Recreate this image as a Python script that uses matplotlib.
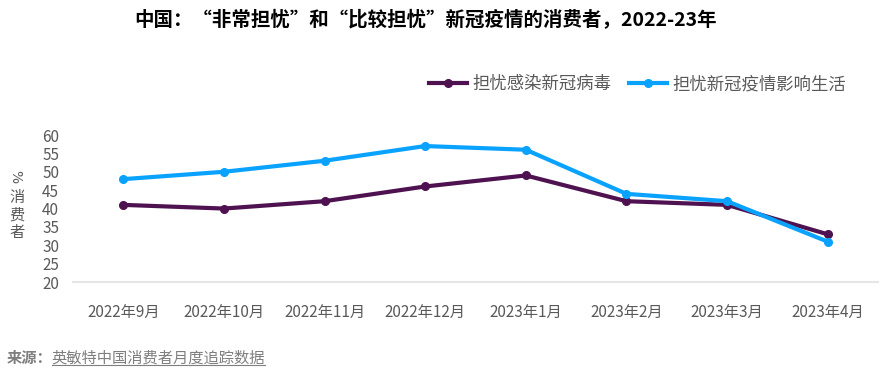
import matplotlib.pyplot as plt
from matplotlib.lines import Line2D

plt.rcParams['font.family'] = ['Noto Sans CJK SC', 'DejaVu Sans']

months = ['2022年9月', '2022年10月', '2022年11月', '2022年12月',
          '2023年1月', '2023年2月', '2023年3月', '2023年4月']
worry_infection = [41, 40, 42, 46, 49, 42, 41, 33]
worry_life = [48, 50, 53, 57, 56, 44, 42, 31]
y_ticks = [20, 25, 30, 35, 40, 45, 50, 55, 60]

purple = '#4F1250'
blue = '#0AA2FF'
gray = '#595959'

fig = plt.figure(figsize=(8.9, 3.88), dpi=100)
ax = fig.add_axes([0.082, 0.273, 0.9045, 0.379])

x = range(len(months))
ax.plot(x, worry_infection, color=purple, lw=3, marker='o', ms=5.5,
        label='担忧感染新冠病毒', solid_capstyle='round')
ax.plot(x, worry_life, color=blue, lw=3, marker='o', ms=5.5,
        label='担忧新冠疫情影响生活', solid_capstyle='round')

ax.set_xlim(-0.5, len(months) - 0.5)
ax.set_ylim(20, 60)
ax.set_yticks(y_ticks)
ax.set_xticks(list(x))
ax.set_xticklabels(months)
ax.tick_params(axis='both', length=0, labelsize=11, colors=gray)
ax.tick_params(axis='x', pad=16)
ax.tick_params(axis='y', pad=10)
for s in ['top', 'right', 'left']:
    ax.spines[s].set_visible(False)
ax.spines['bottom'].set_color('#E6E6E6')
ax.spines['bottom'].set_linewidth(1.5)

# vertical y label: rotated % above stacked characters
fig.text(0.0175, 0.545, '%', rotation=-90, fontsize=10, color=gray,
         family='DejaVu Sans', ha='center', va='center')
for ch, yy in zip('消费者', [0.490, 0.446, 0.402]):
    fig.text(0.019, yy, ch, fontsize=11, color=gray, ha='center', va='center')

fig.suptitle('中国：“非常担忧”和“比较担忧”新冠疫情的消费者，2022-23年',
             x=0.478, y=0.975, fontsize=14, fontweight='bold', color='black')

handles = [Line2D([], [], color=purple, lw=3, marker='o', ms=5.5),
           Line2D([], [], color=blue, lw=3, marker='o', ms=5.5)]
fig.legend(handles, ['担忧感染新冠病毒', '担忧新冠疫情影响生活'],
           loc='center right', bbox_to_anchor=(0.968, 0.783), ncol=2,
           frameon=False, fontsize=12.5, labelcolor=gray, handlelength=2.2,
           handletextpad=0.3, columnspacing=1.0)

fig.text(0.008, 0.078, '来源：', fontsize=11, fontweight='bold', color='#7F7F7F',
         ha='left', va='center')
src = fig.text(0.058, 0.078, '英敏特中国消费者月度追踪数据', fontsize=11,
               color='#7F7F7F', ha='left', va='center')
fig.canvas.draw()
bb = src.get_window_extent().transformed(fig.transFigure.inverted())
fig.add_artist(Line2D([bb.x0, bb.x1], [bb.y0 + 0.004, bb.y0 + 0.004],
                      color='#7F7F7F', lw=0.8, transform=fig.transFigure))

fig.savefig('out.png', dpi=100)
